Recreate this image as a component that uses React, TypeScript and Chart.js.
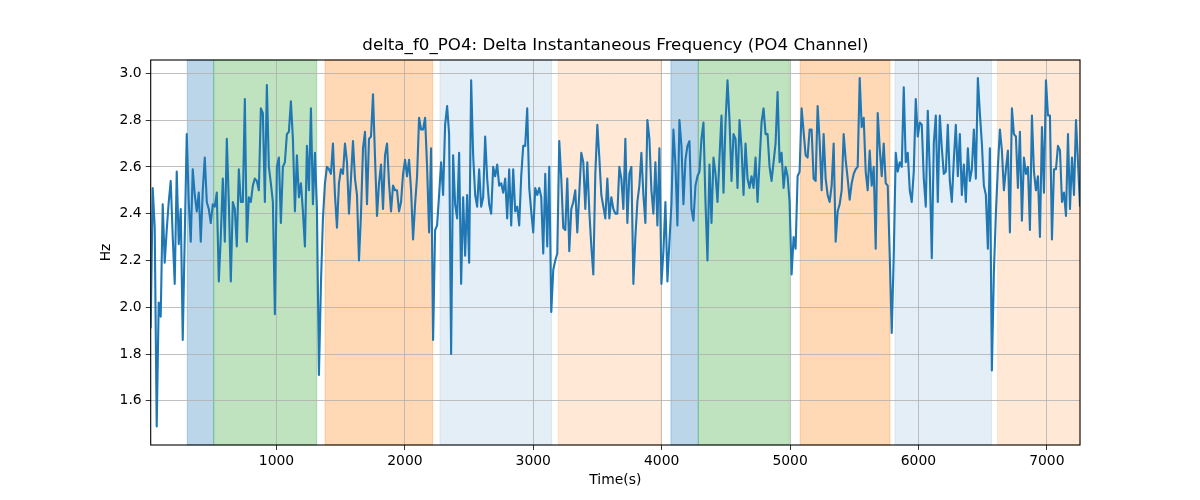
import { useEffect, useRef } from "react";
import { Chart, registerables } from "chart.js";

Chart.register(...registerables);

const TITLE = "delta_f0_PO4: Delta Instantaneous Frequency (PO4 Channel)";
const X_LABEL = "Time(s)";
const Y_LABEL = "Hz";

// sampling of the series (seconds)
const T_START = 20;
const T_STEP = 15.6;

// delta instantaneous frequency
const hz = [
  // ~20 .. 910 s
  1.91, 2.51, 2.34, 1.49, 2.02, 1.96, 2.44, 2.19, 2.33, 2.45, 2.54, 2.3, 2.1, 2.58, 2.27, 2.42, 1.86, 2.3, 2.74, 2.45,
  2.28, 2.59, 2.48, 2.41, 2.49, 2.28, 2.5, 2.64, 2.45, 2.42, 2.36, 2.44, 2.43, 2.49, 2.11, 2.3, 2.55, 2.28, 2.72, 2.45,
  2.11, 2.45, 2.42, 2.26, 2.59, 2.45, 2.45, 2.89, 2.28, 2.47, 2.45, 2.52, 2.55, 2.54, 2.5, 2.85, 2.83, 2.45,
  // ~925 .. 1815 s
  2.95, 2.6, 2.53, 2.45, 1.97, 2.6, 2.64, 2.36, 2.6, 2.62, 2.74, 2.75, 2.88, 2.72, 2.41, 2.65, 2.47, 2.53, 2.41, 2.26,
  2.69, 2.5, 2.85, 2.44, 2.66, 2.42, 1.71, 2.1, 2.38, 2.53, 2.6, 2.59, 2.57, 2.7, 2.48, 2.34, 2.53, 2.59, 2.57, 2.7,
  2.62, 2.4, 2.55, 2.71, 2.55, 2.48, 2.2, 2.4, 2.68, 2.75, 2.44, 2.72, 2.73, 2.91, 2.64, 2.39, 2.53, 2.61,
  // ~1830 .. 2720 s
  2.42, 2.65, 2.7, 2.53, 2.41, 2.52, 2.5, 2.5, 2.41, 2.45, 2.57, 2.63, 2.56, 2.63, 2.5, 2.29, 2.44, 2.56, 2.81, 2.76,
  2.76, 2.81, 2.6, 2.32, 2.68, 1.86, 2.33, 2.35, 2.48, 2.62, 2.48, 2.78, 2.86, 2.74, 1.8, 2.65, 2.44, 2.38, 2.66, 2.1,
  2.47, 2.22, 2.48, 2.19, 2.97, 2.65, 2.48, 2.43, 2.59, 2.43, 2.47, 2.73, 2.55, 2.44, 2.4, 2.6, 2.56, 2.61,
  // ~2735 .. 3625 s
  2.52, 2.53, 2.49, 2.55, 2.38, 2.59, 2.35, 2.59, 2.41, 2.43, 2.35, 2.56, 2.69, 2.69, 2.85, 2.51, 2.41, 2.32, 2.51, 2.48,
  2.51, 2.47, 2.23, 2.57, 2.26, 2.6, 1.98, 2.16, 2.2, 2.23, 2.71, 2.55, 2.34, 2.33, 2.55, 2.24, 2.42, 2.45, 2.5, 2.32,
  2.49, 2.66, 2.62, 2.42, 2.62, 2.41, 2.26, 2.14, 2.57, 2.78, 2.64, 2.48, 2.43, 2.38, 2.55, 2.38, 2.47, 2.42,
  // ~3640 .. 4530 s
  2.4, 2.4, 2.6, 2.55, 2.42, 2.72, 2.36, 2.57, 2.6, 2.1, 2.3, 2.45, 2.52, 2.66, 2.48, 2.36, 2.8, 2.72, 2.5, 2.4,
  2.62, 2.35, 2.68, 2.1, 2.24, 2.45, 2.11, 2.28, 2.44, 2.76, 2.61, 2.35, 2.8, 2.69, 2.44, 2.63, 2.69, 2.71, 2.42, 2.37,
  2.52, 2.56, 2.58, 2.72, 2.79, 2.45, 2.2, 2.61, 2.36, 2.64, 2.57, 2.45, 2.64, 2.82, 2.49, 2.79, 2.97, 2.8,
  // ~4545 .. 5435 s
  2.54, 2.74, 2.72, 2.51, 2.8, 2.68, 2.48, 2.7, 2.55, 2.51, 2.56, 2.51, 2.64, 2.45, 2.62, 2.79, 2.85, 2.74, 2.74, 2.6,
  2.54, 2.62, 2.7, 2.92, 2.62, 2.66, 2.51, 2.6, 2.56, 2.45, 2.14, 2.3, 2.25, 2.56, 2.58, 2.85, 2.75, 2.65, 2.64, 2.76,
  2.76, 2.55, 2.54, 2.86, 2.71, 2.5, 2.74, 2.55, 2.48, 2.45, 2.52, 2.7, 2.28, 2.41, 2.44, 2.5, 2.74, 2.63,
  // ~5450 .. 6325 s
  2.55, 2.46, 2.53, 2.57, 2.59, 2.6, 2.98, 2.77, 2.81, 2.58, 2.5, 2.67, 2.52, 2.6, 2.25, 2.83, 2.68, 2.56, 2.7, 2.53,
  2.52, 2.22, 1.89, 2.22, 2.66, 2.58, 2.62, 2.6, 2.94, 2.62, 2.66, 2.5, 2.45, 2.58, 2.89, 2.73, 2.79, 2.78, 2.55, 2.43,
  2.84, 2.58, 2.21, 2.7, 2.82, 2.45, 2.82, 2.68, 2.57, 2.58, 2.78, 2.54, 2.45, 2.63, 2.78, 2.56, 2.74,
  // ~6340 .. 7260 s
  2.48, 2.61, 2.45, 2.68, 2.54, 2.59, 2.76, 2.55, 2.98, 2.83, 2.7, 2.52, 2.48, 2.25, 2.68, 1.73, 2.15, 2.4, 2.6, 2.76,
  2.67, 2.5, 2.59, 2.67, 2.32, 2.85, 2.74, 2.73, 2.51, 2.75, 2.37, 2.64, 2.57, 2.6, 2.33, 2.82, 2.58, 2.5, 2.56, 2.3,
  2.77, 2.49, 2.97, 2.82, 2.82, 2.29, 2.59, 2.59, 2.69, 2.67, 2.45, 2.49, 2.39, 2.74, 2.42, 2.64, 2.48, 2.8, 2.62, 2.43,
];

// shaded segments (seconds)
const spanStarts = [305, 511, 1378, 2273, 3195, 4072, 4285, 5079, 5817, 6617];
const spanEnds = [511, 1313, 2216, 3143, 3992, 4285, 4994, 5778, 6570, 7260];
const spanKinds = ["blue", "green", "orange", "paleBlue", "paleOrange", "blue", "green", "orange", "paleBlue", "paleOrange"];

const xTicks = [1000, 2000, 3000, 4000, 5000, 6000, 7000];
const yTicks = [1.6, 1.8, 2.0, 2.2, 2.4, 2.6, 2.8, 3.0];

const SPAN_COLORS: Record<string, string> = {
  blue: "rgba(31, 119, 180, 0.3)",
  green: "rgba(44, 160, 44, 0.3)",
  orange: "rgba(255, 127, 14, 0.3)",
  paleBlue: "rgba(31, 119, 180, 0.12)",
  paleOrange: "rgba(255, 127, 14, 0.17)",
};

const FONT = "'DejaVu Sans', sans-serif";

// shaded regions go under the grid
const spanPlugin = {
  id: "spans",
  beforeDraw(chart: Chart) {
    const { ctx, chartArea, scales } = chart;
    const x = scales.x;
    ctx.save();
    spanStarts.forEach((s, i) => {
      const x0 = Math.max(chartArea.left, x.getPixelForValue(s));
      const x1 = Math.min(chartArea.right, x.getPixelForValue(spanEnds[i]));
      ctx.fillStyle = SPAN_COLORS[spanKinds[i]];
      ctx.fillRect(x0, chartArea.top, x1 - x0, chartArea.bottom - chartArea.top);
      ctx.strokeStyle = SPAN_COLORS[spanKinds[i]];
      ctx.lineWidth = 1;
      ctx.strokeRect(x0, chartArea.top, x1 - x0, chartArea.bottom - chartArea.top);
    });
    ctx.restore();
  },
};

// axes box + title centred on the plot area
const framePlugin = {
  id: "frame",
  afterDraw(chart: Chart) {
    const { ctx, chartArea } = chart;
    ctx.save();
    ctx.strokeStyle = "#000";
    ctx.lineWidth = 1.1;
    ctx.strokeRect(chartArea.left, chartArea.top, chartArea.right - chartArea.left, chartArea.bottom - chartArea.top);
    ctx.fillStyle = "#000";
    ctx.font = `16.7px ${FONT}`;
    ctx.textAlign = "center";
    ctx.textBaseline = "middle";
    ctx.fillText(TITLE, (chartArea.left + chartArea.right) / 2, 46);
    ctx.restore();
  },
};

const App = () => {
  const canvasRef = useRef<HTMLCanvasElement | null>(null);

  useEffect(() => {
    document.body.style.margin = "0";
    const canvas = canvasRef.current;
    if (!canvas) return;

    const points = hz.map((v, i) => ({ x: T_START + i * T_STEP, y: v }));
    const tEnd = T_START + (hz.length - 1) * T_STEP;

    const chart = new Chart(canvas, {
      type: "line",
      data: {
        datasets: [
          {
            data: points,
            borderColor: "#1f77b4",
            borderWidth: 2.1,
            pointRadius: 0,
            tension: 0,
            fill: false,
            borderJoinStyle: "round",
          },
        ],
      },
      options: {
        responsive: false,
        animation: false,
        layout: { padding: { top: 60, right: 120, left: 0, bottom: 0 } },
        plugins: {
          legend: { display: false },
          tooltip: { enabled: false },
        },
        scales: {
          x: {
            type: "linear",
            min: T_START,
            max: tEnd,
            afterFit: (s: any) => {
              s.height = 55;
            },
            afterBuildTicks: (s: any) => {
              s.ticks = xTicks.map((v) => ({ value: v }));
            },
            border: { display: false },
            grid: { color: "#b0b0b0", lineWidth: 0.8, tickColor: "#000", tickLength: 5 },
            ticks: {
              color: "#000",
              padding: 3,
              maxRotation: 0,
              font: { family: FONT, size: 13.9 },
              callback: (v: any) => String(v),
            },
            title: {
              display: true,
              text: X_LABEL,
              color: "#000",
              font: { family: FONT, size: 13.9 },
              padding: { top: 0, bottom: 11 },
            },
          },
          y: {
            min: 1.411,
            max: 3.057,
            afterFit: (s: any) => {
              s.width = 150.7;
            },
            afterBuildTicks: (s: any) => {
              s.ticks = yTicks.map((v) => ({ value: v }));
            },
            border: { display: false },
            grid: { color: "#b0b0b0", lineWidth: 0.8, tickColor: "#000", tickLength: 5 },
            ticks: {
              color: "#000",
              padding: 4,
              font: { family: FONT, size: 13.9 },
              callback: (v: any) => Number(v).toFixed(1),
            },
            title: {
              display: true,
              text: Y_LABEL,
              color: "#000",
              font: { family: FONT, size: 13.9 },
              padding: { top: 98, bottom: 0 },
            },
          },
        },
      },
      plugins: [spanPlugin, framePlugin],
    });

    return () => {
      chart.destroy();
    };
  }, []);

  return (
    <div style={{ width: 1200, height: 500, background: "#fff" }}>
      <canvas ref={canvasRef} width={1200} height={500}></canvas>
    </div>
  );
};

export default App;
